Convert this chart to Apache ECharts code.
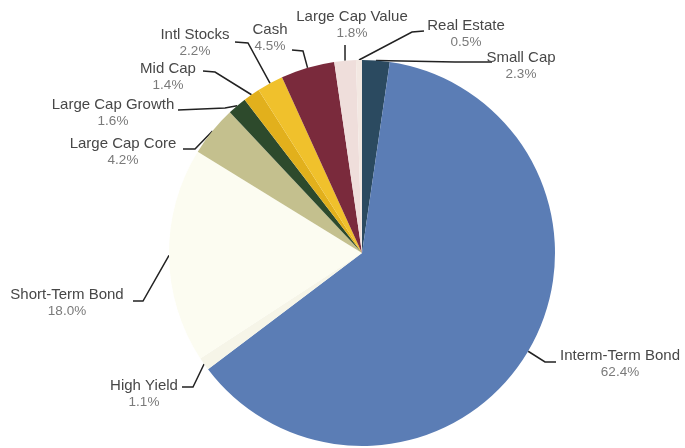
<!DOCTYPE html>
<html>
<head>
<meta charset="utf-8">
<script src="https://cdn.jsdelivr.net/npm/echarts@6/dist/echarts.min.js"></script>
<style>
  html, body { margin: 0; padding: 0; background: #ffffff; }
  #chart { width: 685px; height: 448px; }
</style>
</head>
<body>
<div id="chart"></div>
<script>
// Portfolio allocation, clockwise from 12 o'clock
const categories = [
  'Small Cap', 'Interm-Term Bond', 'High Yield', 'Short-Term Bond',
  'Large Cap Core', 'Large Cap Growth', 'Mid Cap', 'Intl Stocks',
  'Cash', 'Large Cap Value', 'Real Estate'
];
const weights = [2.3, 62.4, 1.1, 18.0, 4.2, 1.6, 1.4, 2.2, 4.5, 1.8, 0.5];
const sliceColors = [
  '#2b4a60', '#5b7db5', '#f6f5e8', '#fcfcf1',
  '#c4c08e', '#2d4a2c', '#e2b01c', '#f0c12c',
  '#7a2a3c', '#efdedb', '#f3e8e2'
];

// Where each label block sits, where its leader meets the text, and the leader's elbow
const labelSpots = [
  { c: [521, 66],  end: [492, 62],  elbow: [455, 62] },
  { c: [620, 364], end: [556, 362], elbow: [545, 362] },
  { c: [144, 394], end: [182, 387], elbow: [193, 387] },
  { c: [67, 303],  end: [133, 301], elbow: [143, 301] },
  { c: [123, 152], end: [183, 149], elbow: [195, 149] },
  { c: [113, 113], end: [178, 110], elbow: [225, 108] },
  { c: [168, 77],  end: [203, 71],  elbow: [215, 72] },
  { c: [195, 43],  end: [235, 42],  elbow: [248, 43] },
  { c: [270, 38],  end: [292, 50],  elbow: [303, 51] },
  { c: [352, 25],  end: [345, 45],  elbow: [345, 50] },
  { c: [466, 34],  end: [424, 31],  elbow: [412, 32] }
];

const pieCenter = [362, 253];
const pieRadius = 193;

// Fallback: point on the rim at the middle of a slice
function rimPoint(i) {
  const total = weights.reduce((a, b) => a + b, 0);
  let before = 0;
  for (let k = 0; k < i; k++) before += weights[k];
  const mid = (before + weights[i] / 2) / total * Math.PI * 2;
  return [pieCenter[0] + pieRadius * Math.sin(mid), pieCenter[1] - pieRadius * Math.cos(mid)];
}

const chart = echarts.init(document.getElementById('chart'), null, { renderer: 'canvas' });

chart.setOption({
  backgroundColor: '#ffffff',
  animation: false,
  series: [{
    type: 'pie',
    center: pieCenter,
    radius: [0, pieRadius],
    startAngle: 90,
    clockwise: true,
    avoidLabelOverlap: false,
    data: categories.map((name, i) => ({
      name: name,
      value: weights[i],
      itemStyle: { color: sliceColors[i] }
    })),
    itemStyle: { borderWidth: 0 },
    emphasis: { disabled: true },
    label: {
      show: true,
      position: 'outside',
      formatter: p => '{n|' + p.name + '}\n{p|' + weights[p.dataIndex].toFixed(1) + '%}',
      align: 'center',
      rich: {
        n: { fontFamily: 'Liberation Sans, Arial, sans-serif', fontSize: 15, color: '#474747', lineHeight: 17, align: 'center' },
        p: { fontFamily: 'Liberation Sans, Arial, sans-serif', fontSize: 13.5, color: '#7a7a7a', lineHeight: 17, align: 'center' }
      }
    },
    labelLine: {
      show: true,
      smooth: false,
      lineStyle: { color: '#222222', width: 1.5 }
    },
    labelLayout: function (params) {
      const spot = labelSpots[params.dataIndex];
      const anchor = (params.labelLinePoints && params.labelLinePoints[0])
        ? params.labelLinePoints[0]
        : rimPoint(params.dataIndex);
      return {
        x: spot.c[0],
        y: spot.c[1],
        align: 'center',
        verticalAlign: 'middle',
        labelLinePoints: [anchor, spot.elbow, spot.end]
      };
    }
  }]
});
</script>
</body>
</html>
